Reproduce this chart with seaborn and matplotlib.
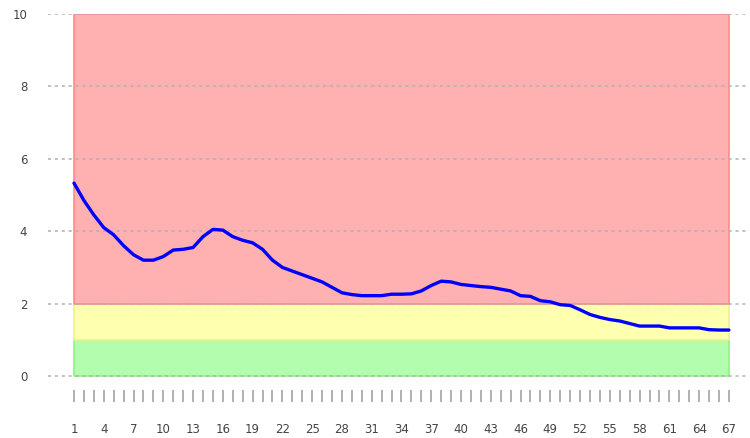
import numpy as np
import pandas as pd
import matplotlib
matplotlib.use("Agg")
import matplotlib.pyplot as plt
import seaborn as sns

# data
periods = list(range(1, 68))
values = [5.33, 4.85, 4.45, 4.10, 3.90, 3.60, 3.35, 3.20, 3.20, 3.30,
          3.48, 3.50, 3.55, 3.85, 4.05, 4.03, 3.85, 3.75, 3.68, 3.50,
          3.20, 3.00, 2.90, 2.80, 2.70, 2.60, 2.45, 2.30, 2.25, 2.22,
          2.22, 2.22, 2.26, 2.26, 2.27, 2.35, 2.50, 2.62, 2.60, 2.53,
          2.50, 2.47, 2.45, 2.40, 2.35, 2.22, 2.20, 2.08, 2.05, 1.97,
          1.95, 1.83, 1.70, 1.62, 1.56, 1.52, 1.45, 1.38, 1.38, 1.38,
          1.33, 1.33, 1.33, 1.33, 1.28, 1.27, 1.27]
band_lower = [0, 1, 2]
band_upper = [1, 2, 10]
band_fill = ["#b3fdae", "#ffffb0", "#ffb0b0"]
band_edge = ["#8cf57f", "#f0f08a", "#ff8a8a"]
y_ticks = [0, 2, 4, 6, 8, 10]
x_labels = [str(p) if (p - 1) % 3 == 0 else "" for p in periods]

df = pd.DataFrame({"period": periods, "value": values})

sns.set_style("white")
plt.rcParams["font.family"] = ["DejaVu Sans"]

fig = plt.figure(figsize=(7.5, 4.38), dpi=100)
ax = fig.add_axes([0.064, 0.082, 0.933, 0.886])

# coloured zones behind the line
for lo, hi, fc, ec in zip(band_lower, band_upper, band_fill, band_edge):
    ax.fill_between([periods[0], periods[-1]], lo, hi, facecolor=fc,
                    edgecolor=ec, linewidth=1.2, zorder=0.5)

sns.lineplot(data=df, x="period", y="value", color="#0000ff", linewidth=2.4,
             ax=ax, zorder=3)

ax.set_xlim(-1.62, 68.9)
ax.set_ylim(-0.72, 10)
ax.set_yticks(y_ticks)
ax.set_yticklabels([str(t) for t in y_ticks], fontsize=8.5, color="#444444")
ax.set_xticks(periods)
ax.set_xticklabels(x_labels, fontsize=8.5, color="#444444")

ax.grid(axis="y", color="#b0b0b0", linestyle=(0, (2, 2.5)), linewidth=1.1)
ax.grid(axis="x", visible=False)
ax.set_axisbelow(False)
for s in ax.spines.values():
    s.set_visible(False)

ax.tick_params(axis="x", direction="in", length=8.5, width=1.3, color="#aaaaaa",
               pad=15, bottom=True)
ax.tick_params(axis="y", length=0, pad=15)
ax.set_xlabel("")
ax.set_ylabel("")

fig.savefig("out.png", dpi=100)
